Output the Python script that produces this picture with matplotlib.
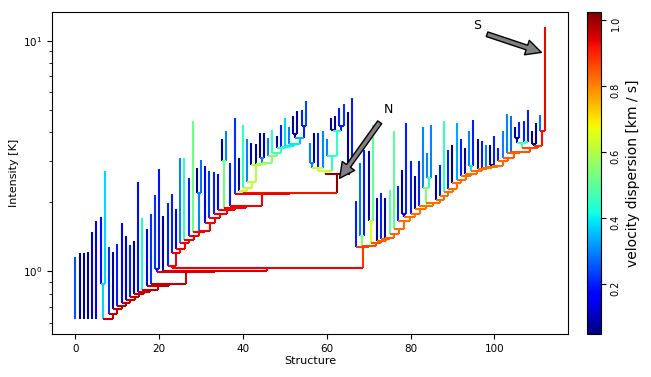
import numpy as np
import matplotlib
matplotlib.use('Agg')
import matplotlib.pyplot as plt
from matplotlib.collections import LineCollection
from matplotlib.colors import Normalize

nan = np.nan

# peak intensity [K] of every leaf, in plotting order (structure index)
leaf_peak = [1.15, 1.20, 1.20, 1.21, 1.48, 1.66, 1.72, 2.72, 1.27, 1.22,
             1.31, 1.62, 1.42, 1.30, 1.35, 2.44, 1.71, 1.52, 1.77, 2.15,
             2.77, 1.73, 1.98, 2.17, 1.86, 3.11, 3.11, 2.54, 4.47, 2.80,
             3.05, 2.86, 2.72, 2.70, 2.65, 3.73, 4.05, 2.95, 4.62, 3.10,
             4.33, 3.73, 3.60, 3.55, 3.98, 3.98, 3.79, 4.12, 3.85, 4.33,
             4.62, 4.23, 4.70, 4.95, 5.00, 5.46, 3.60, 3.98, 3.98, 4.05,
             3.73, 4.62, 4.70, 5.13, 5.30, 4.93, 5.63, 2.02, 2.95, 3.37,
             3.31, 4.33, 2.08, 2.19, 2.08, 2.26, 4.05, 2.35, 2.76, 4.40,
             3.00, 2.58, 3.00, 4.23, 3.26, 4.33, 2.63, 2.90, 4.47, 3.37,
             3.54, 4.40, 3.76, 3.43, 4.05, 4.55, 3.73, 3.66, 3.54, 3.54,
             3.85, 3.43, 4.05, 4.83, 4.73, 4.23, 4.42, 4.50, 5.03, 4.05,
             4.40, 4.78, 11.5]

# velocity dispersion [km/s] of every leaf
leaf_sigma = [0.25, 0.07, 0.07, 0.07, 0.12, 0.15, 0.18, 0.38, 0.22, 0.07,
              0.20, 0.17, 0.12, 0.20, 0.08, 0.18, 0.42, 0.16, 0.22, 0.22,
              0.19, 0.07, 0.20, 0.20, 0.17, 0.30, 0.45, 0.20, 0.52, 0.07,
              0.28, 0.17, 0.22, 0.20, 0.17, 0.07, 0.30, 0.20, 0.22, 0.07,
              0.45, 0.30, 0.07, 0.08, 0.07, 0.09, 0.30, 0.45, 0.07, 0.20,
              0.38, 0.30, 0.07, 0.08, 0.20, 0.24, 0.30, 0.07, 0.20, 0.30,
              0.30, 0.07, 0.07, 0.20, 0.22, 0.07, 0.20, 0.20, 0.28, 0.20,
              0.08, 0.50, 0.07, 0.20, 0.07, 0.50, 0.50, 0.20, 0.07, 0.20,
              0.20, 0.07, 0.20, 0.30, 0.30, 0.30, 0.07, 0.20, 0.45, 0.20,
              0.07, 0.33, 0.20, 0.07, 0.30, 0.20, 0.07, 0.20, 0.30, 0.07,
              0.20, 0.20, 0.30, 0.30, 0.28, 0.07, 0.20, 0.20, 0.20, 0.07,
              0.08, 0.28, 0.93]

# level at which leaf i and leaf i+1 first share a branch (nan: separate trunks)
merge_level = [nan, nan, nan, nan, nan, nan, 0.88, 0.625, 0.652, 0.685,
               0.71, 0.732, 0.755, 0.774, 0.80, 0.815, 0.835, 0.864, 0.885, 1.02,
               0.993, 1.003, 1.054, 1.20, 1.245, 1.33, 1.37, 1.42, 1.48, 2.19,
               1.50, 1.62, 1.70, 1.77, 1.84, 3.00, 1.89, 1.92, 2.17, 2.22,
               2.30, 2.45, 2.90, 2.92, 3.11, 2.95, 3.15, 3.26, 3.43, 3.45,
               3.49, 3.55, 3.95, 3.80, 4.26, 2.19, 2.95, 2.81, 2.81, 2.73,
               3.15, 4.12, 4.05, 4.26, 2.65, 2.95, 1.037, 1.27, 1.42, 1.29,
               1.65, 1.33, 1.36, 1.38, 1.40, 1.45, 1.52, 1.65, 1.77, 1.72,
               1.78, 1.86, 1.92, 2.30, 2.54, 1.98, 2.03, 2.12, 2.20, 2.27,
               2.42, 2.50, 2.58, 2.65, 2.86, 2.72, 2.77, 2.80, 2.83, 2.88,
               2.86, 3.00, 3.11, 3.26, 3.30, 3.79, 3.60, 3.65, 3.43, 3.55,
               3.49, 4.05]

# velocity dispersion of the branch created at that merge
merge_sigma = [nan, nan, nan, nan, nan, nan, 0.38, 0.97, 0.97, 0.97,
               0.97, 0.97, 0.97, 0.97, 0.97, 0.97, 0.97, 0.97, 0.97, 0.20,
               0.95, 0.95, 0.93, 0.93, 0.93, 0.93, 0.93, 0.93, 0.93, 0.30,
               0.93, 0.93, 0.93, 0.93, 0.93, 0.52, 0.93, 0.93, 0.93, 0.63,
               0.63, 0.62, 0.60, 0.60, 0.30, 0.55, 0.55, 0.48, 0.45, 0.42,
               0.40, 0.40, 0.08, 0.35, 0.20, 0.92, 0.30, 0.63, 0.63, 0.62,
               0.45, 0.08, 0.45, 0.20, 1.01, 0.45, 0.93, 0.88, 0.55, 0.86,
               0.65, 0.85, 0.84, 0.84, 0.84, 0.83, 0.83, 0.82, 0.15, 0.82,
               0.82, 0.82, 0.82, 0.55, 0.45, 0.82, 0.82, 0.82, 0.82, 0.82,
               0.82, 0.82, 0.82, 0.82, 0.40, 0.82, 0.82, 0.82, 0.82, 0.08,
               0.82, 0.83, 0.84, 0.84, 0.85, 0.08, 0.48, 0.42, 0.86, 0.08,
               0.89, 0.92]

trunk_min = 0.62

peak = np.array(leaf_peak)
level = np.array(merge_level)
segs, vals = [], []


def draw(lo, hi, bottom):
    # leaf
    if lo == hi:
        segs.append([(lo, bottom), (lo, peak[lo])])
        vals.append(leaf_sigma[lo])
        return float(lo)
    inner = level[lo:hi]
    h = inner.min()
    cuts = [lo + i for i in np.flatnonzero(inner == h)]
    starts = [lo] + [c + 1 for c in cuts]
    ends = cuts + [hi]
    xs = [draw(a, b, h) for a, b in zip(starts, ends)]
    x = np.mean(xs)
    segs.append([(x, bottom), (x, h)])
    vals.append(merge_sigma[cuts[0]])
    segs.append([(min(xs), h), (max(xs), h)])
    vals.append(merge_sigma[cuts[0]])
    return x


# separate trunks
breaks = [i for i in range(len(merge_level)) if np.isnan(level[i])]
lo = 0
for b in breaks + [len(leaf_peak) - 1]:
    draw(lo, b, trunk_min)
    lo = b + 1

fig = plt.figure(figsize=(6.51, 3.77), dpi=100)
ax = fig.add_axes([0.0799, 0.1141, 0.7926, 0.8541])
cax = fig.add_axes([0.9017, 0.1141, 0.0215, 0.8541])

lc = LineCollection(segs, cmap='jet', norm=Normalize(0.05, 1.025), linewidths=1.5)
lc.set_array(np.array(vals))
ax.add_collection(lc)
ax.set_yscale('log')
ax.autoscale_view()

ax.set_xlabel('Structure', fontsize=8, labelpad=2)
ax.set_ylabel('Intensity [K]', fontsize=8, labelpad=3)
ax.tick_params(labelsize=7.5)

arrow = dict(facecolor='gray', shrink=0.05, width=3.5, headwidth=11, headlength=11)
ax.annotate('N', xy=(62.5, 2.45), xytext=(74.8, 5.02), ha='center', va='center',
            fontsize=9, arrowprops=arrow)
ax.annotate('S', xy=(112, 8.8), xytext=(95.9, 11.6), ha='center', va='center',
            fontsize=9, arrowprops=arrow)

cb = fig.colorbar(lc, cax=cax, ticks=[0.2, 0.4, 0.6, 0.8, 1.0])
cb.set_label('velocity dispersion [km / s]', fontsize=10)
cax.tick_params(labelsize=7, labelrotation=90)

fig.savefig('out.png', dpi=100)
